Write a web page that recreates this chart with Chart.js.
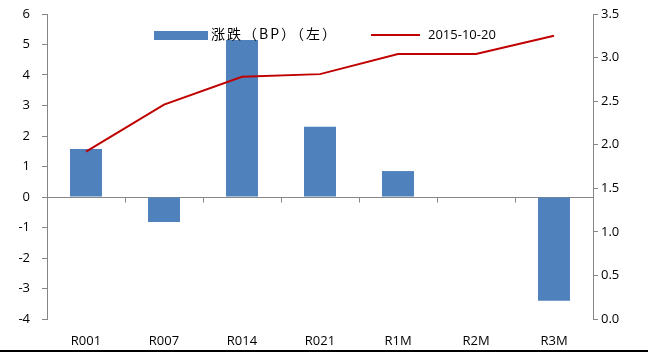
<!DOCTYPE html>
<html>
<head>
<meta charset="utf-8">
<script src="https://cdn.jsdelivr.net/npm/chart.js@4/dist/chart.umd.min.js"></script>
<style>
  html, body { margin: 0; padding: 0; background: #fff; }
  #chart { display: block; }
</style>
</head>
<body>
<canvas id="chart" width="648" height="356"></canvas>
<script>
// data
const categories = ['R001', 'R007', 'R014', 'R021', 'R1M', 'R2M', 'R3M'];
const changeBP = [1.57, -0.82, 5.15, 2.3, 0.85, 0, -3.4];      // left axis
const rate20151020 = [1.92, 2.46, 2.78, 2.81, 3.04, 3.04, 3.25]; // right axis
const barLabel = '涨跌（BP）（左）';
const lineLabel = '2015-10-20';

const axisGrey = '#868686';
const fontFamily = '"Open Sans", "Noto Sans CJK SC", sans-serif';

// zero line with category boundary ticks, legend and bottom rule
const extras = {
    id: 'extras',
    beforeDatasetsDraw(chart) {
        const ctx = chart.ctx;
        const area = chart.chartArea;
        const y0 = Math.round(chart.scales.y.getPixelForValue(0)) + 0.5;
        const n = categories.length;
        const step = (area.right - area.left) / n;
        ctx.save();
        ctx.strokeStyle = axisGrey;
        ctx.lineWidth = 1;
        ctx.beginPath();
        ctx.moveTo(area.left, y0);
        ctx.lineTo(area.right, y0);
        for (let i = 1; i < n; i++) {
            const x = Math.round(area.left + i * step) + 0.5;
            ctx.moveTo(x, y0);
            ctx.lineTo(x, y0 + 5);
        }
        ctx.stroke();
        ctx.restore();
    },
    afterDraw(chart) {
        const ctx = chart.ctx;
        const ds = chart.data.datasets;
        ctx.save();
        ctx.textBaseline = 'middle';
        ctx.fillStyle = ds[1].backgroundColor;
        ctx.fillRect(154, 31, 54, 9);
        ctx.fillStyle = '#000';
        ctx.font = '14px "Noto Sans CJK SC", sans-serif';
        ctx.letterSpacing = '2px';
        ctx.fillText(ds[1].label, 211, 34);
        ctx.letterSpacing = '0px';
        ctx.strokeStyle = ds[0].borderColor;
        ctx.lineWidth = 2;
        ctx.beginPath();
        ctx.moveTo(371, 35);
        ctx.lineTo(420, 35);
        ctx.stroke();
        ctx.font = '13px ' + fontFamily;
        ctx.fillText(ds[0].label, 428, 35);
        ctx.fillStyle = '#000';
        ctx.fillRect(0, 350, chart.width, 2);
        ctx.restore();
    }
};

new Chart(document.getElementById('chart'), {
    data: {
        labels: categories,
        datasets: [
            {
                type: 'line',
                label: lineLabel,
                data: rate20151020,
                yAxisID: 'y1',
                borderColor: '#C00000',
                borderWidth: 2,
                pointRadius: 0,
                tension: 0,
                order: 0
            },
            {
                type: 'bar',
                label: barLabel,
                data: changeBP,
                yAxisID: 'y',
                backgroundColor: '#4F81BD',
                borderWidth: 0,
                categoryPercentage: 1,
                barPercentage: 0.41,
                order: 1
            }
        ]
    },
    options: {
        responsive: false,
        animation: false,
        layout: { padding: { top: 14, left: 0, right: 0, bottom: 0 } },
        plugins: {
            legend: { display: false },
            tooltip: { enabled: false }
        },
        scales: {
            x: {
                position: 'bottom',
                grid: { display: false, drawTicks: false },
                border: { display: false },
                ticks: {
                    color: '#000',
                    padding: 14,
                    maxRotation: 0,
                    font: { family: fontFamily, size: 13 }
                },
                afterFit: (s) => { s.height = 37; s.paddingLeft = 0; s.paddingRight = 0; }
            },
            y: {
                position: 'left',
                min: -4,
                max: 6,
                grid: { drawOnChartArea: false, tickLength: 5, color: axisGrey },
                border: { color: axisGrey },
                ticks: {
                    stepSize: 1,
                    color: '#000',
                    padding: 12,
                    font: { family: fontFamily, size: 13 }
                },
                afterFit: (s) => { s.width = 47; s.paddingTop = 0; s.paddingBottom = 0; }
            },
            y1: {
                position: 'right',
                min: 0,
                max: 3.5,
                grid: { drawOnChartArea: false, tickLength: 5, color: axisGrey },
                border: { color: axisGrey },
                ticks: {
                    stepSize: 0.5,
                    color: '#000',
                    padding: 3,
                    font: { family: fontFamily, size: 13 },
                    callback: (v) => Number(v).toFixed(1)
                },
                afterFit: (s) => { s.width = 55; s.paddingTop = 0; s.paddingBottom = 0; }
            }
        }
    },
    plugins: [extras]
});
</script>
</body>
</html>
